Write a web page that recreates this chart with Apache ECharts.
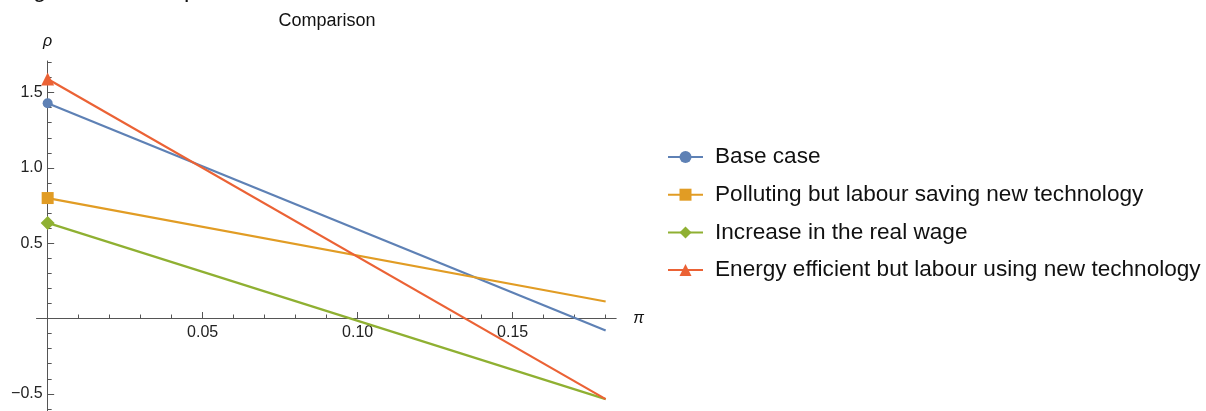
<!DOCTYPE html>
<html>
<head>
<meta charset="utf-8">
<script src="https://cdn.jsdelivr.net/npm/echarts@6/dist/echarts.min.js"></script>
<style>
html,body{margin:0;padding:0;background:#fff;}
#chart{width:1206px;height:411px;}
</style>
</head>
<body>
<div id="chart"></div>
<script>
// ---- data ----
const titleText = 'Comparison';
const seriesNames = [
  'Base case',
  'Polluting but labour saving new technology',
  'Increase in the real wage',
  'Energy efficient but labour using new technology'
];
const piValues = [0, 0.18];
const baseCase = [1.43, -0.08];
const pollutingTech = [0.80, 0.113];
const realWage = [0.635, -0.535];
const energyTech = [1.59, -0.535];
const xMajorTicks = [0.05, 0.10, 0.15];
const xMinorTicks = [0.01, 0.02, 0.03, 0.04, 0.06, 0.07, 0.08, 0.09, 0.11, 0.12, 0.13, 0.14, 0.16, 0.17, 0.18];
const yMajorTicks = [-0.5, 0.5, 1.0, 1.5];
const yMinorTicks = [-0.6, -0.4, -0.3, -0.2, -0.1, 0.1, 0.2, 0.3, 0.4, 0.6, 0.7, 0.8, 0.9, 1.1, 1.2, 1.3, 1.4, 1.6, 1.7];

// ---- styling ----
const colors = ['#5E81B5', '#E19C24', '#8FB032', '#EB6235'];
const symbols = ['circle', 'rect', 'diamond', 'triangle'];
const symbolSizes = [10, 12, 14, 13];
const valueSets = [baseCase, pollutingTech, realWage, energyTech];
const FONT = 'Liberation Sans, Arial, sans-serif';
const axisColor = '#555';

const xMin = -0.0036, xMax = 0.1834, yMin = -0.614, yMax = 1.71;
const gridPos = {left: 36.5, top: 61, width: 579.7, height: 350};
// axes cross at the origin: shift each axis inward from the grid edge to the value 0
const xAxisShift = -((0 - yMin) / (yMax - yMin)) * gridPos.height;
const yAxisShift = -((0 - xMin) / (xMax - xMin)) * gridPos.width;

const chart = echarts.init(document.getElementById('chart'), null, {renderer: 'canvas'});

const series = valueSets.map((vals, i) => ({
  name: seriesNames[i],
  type: 'line',
  xAxisIndex: 0,
  yAxisIndex: 0,
  symbol: symbols[i],
  symbolSize: symbolSizes[i],
  showAllSymbol: true,
  animation: false,
  color: colors[i],
  lineStyle: {width: 2.2, color: colors[i]},
  itemStyle: {color: colors[i]},
  data: piValues.map((x, j) => (j === 0 ? {value: [x, vals[j]]} : {value: [x, vals[j]], symbol: 'none'}))
}));

const minus = s => s.replace('-', '\u2212');

function xAxisDef(gridIndex, major) {
  return {
    type: 'value', gridIndex: gridIndex, min: xMin, max: xMax, position: 'bottom', offset: xAxisShift,
    name: major ? '\u03C0' : '', nameLocation: 'end', nameGap: 17,
    nameTextStyle: {fontFamily: FONT, fontSize: 16, fontStyle: 'italic', color: '#111', verticalAlign: 'middle'},
    axisLine: {show: true, onZero: false, lineStyle: {color: axisColor, width: 1, opacity: major ? 1 : 0}},
    axisTick: {show: true, inside: true, length: major ? 6.5 : 4, customValues: major ? xMajorTicks : xMinorTicks, lineStyle: {color: axisColor}},
    axisLabel: {show: major, customValues: xMajorTicks, margin: 6, fontFamily: FONT, fontSize: 16, color: '#222',
      formatter: v => v.toFixed(2)},
    splitLine: {show: false}
  };
}
function yAxisDef(gridIndex, major) {
  return {
    type: 'value', gridIndex: gridIndex, min: yMin, max: yMax, position: 'left', offset: yAxisShift,
    name: major ? '\u03C1' : '', nameLocation: 'end', nameGap: 11,
    nameTextStyle: {fontFamily: FONT, fontSize: 16, fontStyle: 'italic', color: '#111', align: 'center'},
    axisLine: {show: true, onZero: false, lineStyle: {color: axisColor, width: 1, opacity: major ? 1 : 0}},
    axisTick: {show: true, inside: true, length: major ? 6.5 : 4, customValues: major ? yMajorTicks : yMinorTicks, lineStyle: {color: axisColor}},
    axisLabel: {show: major, customValues: yMajorTicks, margin: 5, fontFamily: FONT, fontSize: 16, color: '#222',
      formatter: v => minus(v.toFixed(1))},
    splitLine: {show: false}
  };
}

chart.setOption({
  animation: false,
  graphic: [
    {type: 'text', x: 327, y: 21, style: {text: titleText, font: '18px ' + FONT, fill: '#111', textAlign: 'center', textVerticalAlign: 'middle'}, z: 10},
    {type: 'text', x: 33, y: -10, style: {text: 'g', font: '24px ' + FONT, fill: '#111', textVerticalAlign: 'middle'}},
    {type: 'text', x: 184, y: -10, style: {text: 'p', font: '24px ' + FONT, fill: '#111', textVerticalAlign: 'middle'}},
    {type: 'text', x: 469, y: -10, style: {text: ',', font: '24px ' + FONT, fill: '#111', textVerticalAlign: 'middle'}},
    {type: 'text', x: 502, y: -10, style: {text: ',', font: '24px ' + FONT, fill: '#111', textVerticalAlign: 'middle'}}
  ],
  legend: {
    orient: 'vertical',
    left: 667,
    top: 145,
    padding: 0,
    itemWidth: 35,
    itemHeight: 15,
    itemGap: 13.7,
    data: seriesNames,
    textStyle: {fontFamily: FONT, fontSize: 22.6, color: '#111', lineHeight: 24, padding: [0, 0, 0, 7]}
  },
  grid: [
    Object.assign({containLabel: false, outerBoundsMode: 'none'}, gridPos),
    Object.assign({containLabel: false, outerBoundsMode: 'none'}, gridPos)
  ],
  xAxis: [xAxisDef(0, true), xAxisDef(1, false)],
  yAxis: [yAxisDef(0, true), yAxisDef(1, false)],
  series: series
});
</script>
</body>
</html>
